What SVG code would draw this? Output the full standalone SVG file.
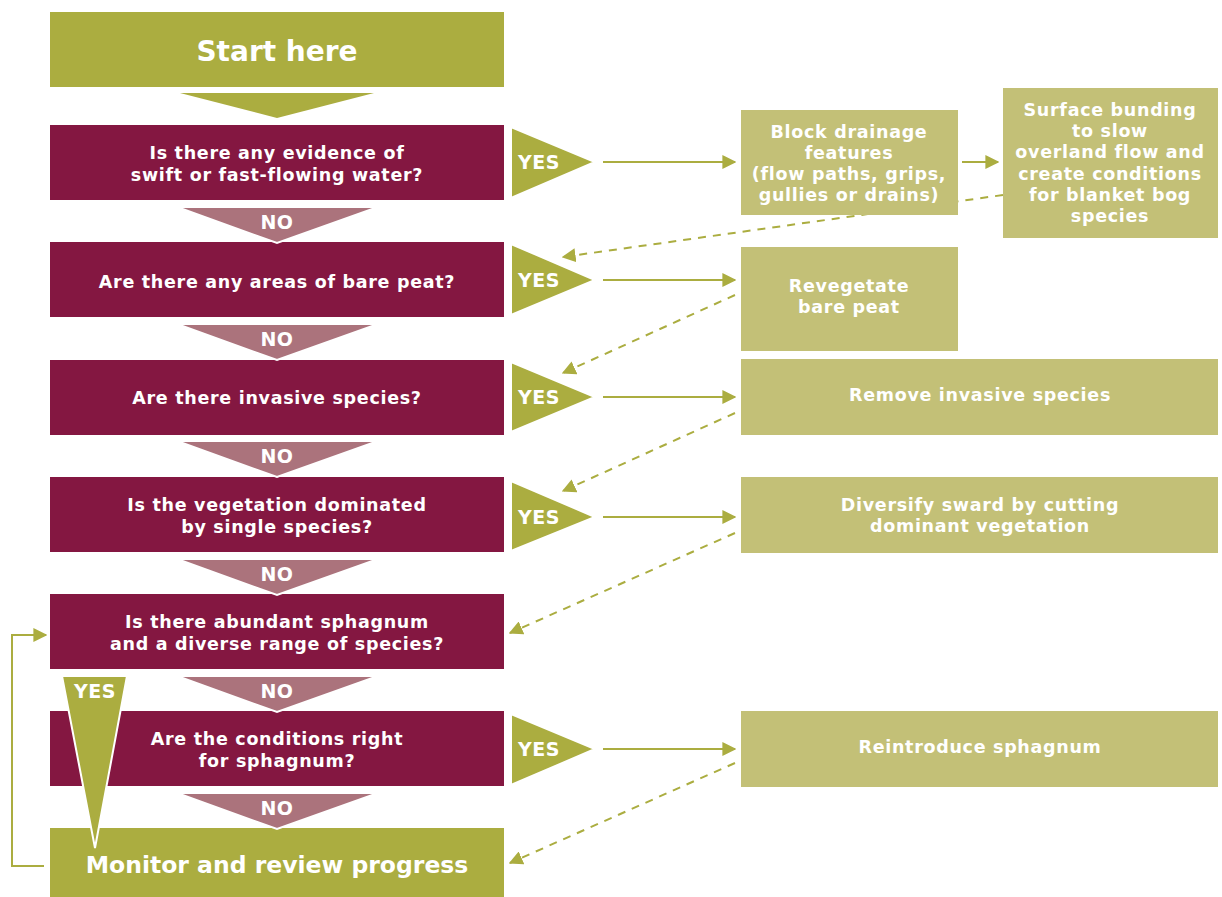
<svg xmlns="http://www.w3.org/2000/svg" width="1222" height="897" viewBox="0 0 1222 897">
<defs>
<style>
.olive{fill:#abad40}
.q{fill:#841741}
.no{fill:#ab737c;stroke:#fff;stroke-width:2}
.yes{fill:#abad40;stroke:#fff;stroke-width:2}
.act{fill:#c3c077}
text{font-family:"DejaVu Sans","Open Sans",sans-serif;font-weight:bold;fill:#fff;text-anchor:middle}
.t18{font-size:17.5px;letter-spacing:0.7px}
.lab{font-size:19px;letter-spacing:0.5px}
.big{font-size:28px}
.mon{font-size:23.5px}
.ln{stroke:#abad40;stroke-width:2;fill:none}
.dash{stroke:#abad40;stroke-width:2;fill:none;stroke-dasharray:8 7}
</style>
<marker id="ah" viewBox="0 0 10 10" refX="9" refY="5" markerWidth="7" markerHeight="7" markerUnits="strokeWidth" orient="auto">
<path d="M0,0 L10,5 L0,10 Z" fill="#abad40"/>
</marker>
</defs>

<g id="connectors">
<line class="ln" x1="603" y1="162" x2="735" y2="162" marker-end="url(#ah)"/>
<line class="ln" x1="962" y1="162" x2="998" y2="162" marker-end="url(#ah)"/>
<line class="ln" x1="603" y1="280" x2="735" y2="280" marker-end="url(#ah)"/>
<line class="ln" x1="603" y1="397" x2="735" y2="397" marker-end="url(#ah)"/>
<line class="ln" x1="603" y1="517" x2="735" y2="517" marker-end="url(#ah)"/>
<line class="ln" x1="603" y1="749" x2="735" y2="749" marker-end="url(#ah)"/>
<line class="dash" x1="1003" y1="195" x2="563" y2="257" marker-end="url(#ah)"/>
<line class="dash" x1="735" y1="295" x2="563" y2="373" marker-end="url(#ah)"/>
<line class="dash" x1="735" y1="413" x2="563" y2="491" marker-end="url(#ah)"/>
<line class="dash" x1="735" y1="533" x2="510" y2="633" marker-end="url(#ah)"/>
<line class="dash" x1="735" y1="763" x2="510" y2="863" marker-end="url(#ah)"/>
<polyline class="ln" points="44,866 12,866 12,635 46,635" marker-end="url(#ah)"/>
</g>

<g id="start">
<rect class="olive" x="50" y="12" width="454" height="75"/>
<text class="big" x="277" y="61">Start here</text>
</g>
<polygon class="olive" points="180,93 374,93 277,118"/>

<g id="q1">
<rect class="q" x="50" y="125" width="454" height="75"/>
<text class="t18" x="277" y="159">Is there any evidence of</text>
<text class="t18" x="277" y="181">swift or fast-flowing water?</text>
</g>
<g id="q2">
<rect class="q" x="50" y="242" width="454" height="75"/>
<text class="t18" x="277" y="288">Are there any areas of bare peat?</text>
</g>
<g id="q3">
<rect class="q" x="50" y="360" width="454" height="75"/>
<text class="t18" x="277" y="404">Are there invasive species?</text>
</g>
<g id="q4">
<rect class="q" x="50" y="477" width="454" height="75"/>
<text class="t18" x="277" y="511">Is the vegetation dominated</text>
<text class="t18" x="277" y="533">by single species?</text>
</g>
<g id="q5">
<rect class="q" x="50" y="594" width="454" height="75"/>
<text class="t18" x="277" y="628">Is there abundant sphagnum</text>
<text class="t18" x="277" y="650">and a diverse range of species?</text>
</g>
<g id="q6">
<rect class="q" x="50" y="711" width="454" height="75"/>
<text class="t18" x="277" y="745">Are the conditions right</text>
<text class="t18" x="277" y="767">for sphagnum?</text>
</g>
<g id="monitor">
<rect class="olive" x="50" y="828" width="454" height="69"/>
<text class="mon" x="277" y="873">Monitor and review progress</text>
</g>

<g id="no1"><polygon class="no" points="177,207 378,207 277,243"/><text class="lab" x="277" y="229">NO</text></g>
<g id="no2"><polygon class="no" points="177,324 378,324 277,360"/><text class="lab" x="277" y="346">NO</text></g>
<g id="no3"><polygon class="no" points="177,441 378,441 277,477"/><text class="lab" x="277" y="463">NO</text></g>
<g id="no4"><polygon class="no" points="177,559 378,559 277,595"/><text class="lab" x="277" y="581">NO</text></g>
<g id="no5"><polygon class="no" points="177,676 378,676 277,712"/><text class="lab" x="277" y="698">NO</text></g>
<g id="no6"><polygon class="no" points="177,793 378,793 277,829"/><text class="lab" x="277" y="815">NO</text></g>

<g id="yes1"><polygon class="yes" points="511,127 511,198 595,162"/><text class="lab" x="539" y="169">YES</text></g>
<g id="yes2"><polygon class="yes" points="511,244 511,315 595,280"/><text class="lab" x="539" y="287">YES</text></g>
<g id="yes3"><polygon class="yes" points="511,362 511,432 595,397"/><text class="lab" x="539" y="404">YES</text></g>
<g id="yes4"><polygon class="yes" points="511,481 511,551 595,517"/><text class="lab" x="539" y="524">YES</text></g>
<g id="yes6"><polygon class="yes" points="511,714 511,785 595,749"/><text class="lab" x="539" y="756">YES</text></g>
<g id="yes5"><polygon class="yes" points="62,676 127,676 95,848"/><text class="lab" x="95" y="698">YES</text></g>

<g id="block">
<rect class="act" x="741" y="110" width="217" height="105"/>
<text class="t18" x="849" y="138">Block drainage</text>
<text class="t18" x="849" y="159">features</text>
<text class="t18" x="849" y="180">(flow paths, grips,</text>
<text class="t18" x="849" y="201">gullies or drains)</text>
</g>
<g id="bunding">
<rect class="act" x="1003" y="88" width="215" height="150"/>
<text class="t18" x="1110" y="116">Surface bunding</text>
<text class="t18" x="1110" y="137">to slow</text>
<text class="t18" x="1110" y="158">overland flow and</text>
<text class="t18" x="1110" y="180">create conditions</text>
<text class="t18" x="1110" y="201">for blanket bog</text>
<text class="t18" x="1110" y="222">species</text>
</g>
<g id="reveg">
<rect class="act" x="741" y="247" width="217" height="104"/>
<text class="t18" x="849" y="292">Revegetate</text>
<text class="t18" x="849" y="313">bare peat</text>
</g>
<g id="remove">
<rect class="act" x="741" y="359" width="477" height="76"/>
<text class="t18" x="980" y="401">Remove invasive species</text>
</g>
<g id="diversify">
<rect class="act" x="741" y="477" width="477" height="76"/>
<text class="t18" x="980" y="511">Diversify sward by cutting</text>
<text class="t18" x="980" y="532">dominant vegetation</text>
</g>
<g id="reintro">
<rect class="act" x="741" y="711" width="477" height="76"/>
<text class="t18" x="980" y="753">Reintroduce sphagnum</text>
</g>
</svg>
